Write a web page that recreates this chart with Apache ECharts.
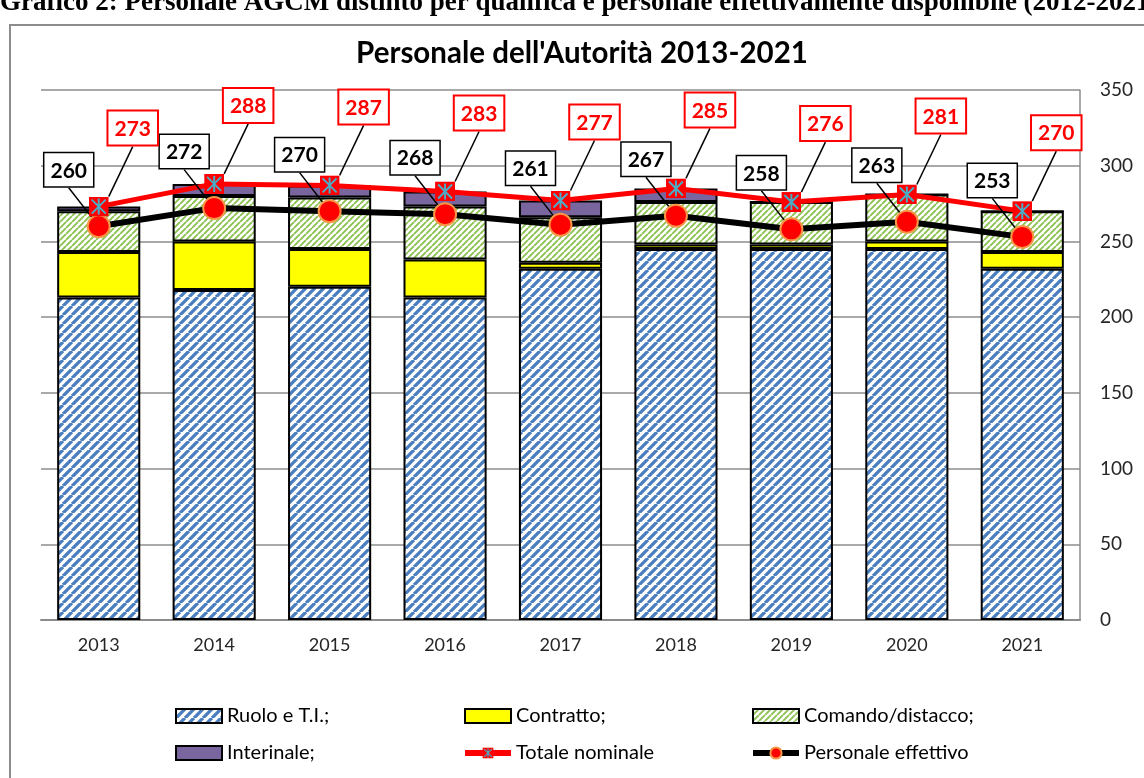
<!DOCTYPE html>
<html>
<head>
<meta charset="utf-8">
<title>Personale dell'Autorità 2013-2021</title>
<script src="https://cdn.jsdelivr.net/npm/echarts@6/dist/echarts.min.js"></script>
<style>
  html, body { margin: 0; padding: 0; background: #fff; }
  #chart { width: 1144px; height: 778px; }
</style>
</head>
<body>
<div id="chart"></div>
<script>
// dati
const years = ['2013', '2014', '2015', '2016', '2017', '2018', '2019', '2020', '2021']
const ruolo = [213, 218, 220, 213, 232, 245, 245, 245, 232]
const contratto = [30, 32, 25, 25, 4, 3, 3, 5, 11]
const comando = [27, 30, 34, 35, 30, 28, 28, 31, 27]
const interinale = [3, 8, 8, 10, 11, 9, 0, 0, 0]
const totale = [273, 288, 287, 283, 277, 285, 276, 281, 270]
const effettivo = [260, 272, 270, 268, 261, 267, 258, 263, 253]

const FONT = 'Lato'

// riempimento a righe oblique (come Excel)
function stripes(color, step, width) {
  const c = document.createElement('canvas')
  c.width = step
  c.height = step
  const ctx = c.getContext('2d')
  ctx.fillStyle = '#fff'
  ctx.fillRect(0, 0, step, step)
  ctx.strokeStyle = color
  ctx.lineWidth = width
  ctx.beginPath()
  for (let k = -1; k <= 1; k++) {
    ctx.moveTo(k * step, step)
    ctx.lineTo(k * step + step, 0)
  }
  ctx.stroke()
  return { image: c, repeat: 'repeat' }
}

// marker "stella" rossa con croce azzurra
const starSvg = '<svg xmlns="http://www.w3.org/2000/svg" width="20" height="20">' +
  '<rect x="0" y="0" width="20" height="20" fill="#ff0000"/>' +
  '<path d="M3 3 L17 17 M17 3 L3 17 M10 2 L10 18" stroke="#4bacc6" stroke-width="2"/></svg>'
const starIcon = 'image://data:image/svg+xml;charset=utf-8,' + encodeURIComponent(starSvg)

const barBase = {
  type: 'bar',
  stack: 'tot',
  barCategoryGap: '28%',
  itemStyle: { borderColor: '#000', borderWidth: 2 }
}

const boxLabel = {
  show: true,
  position: 'top',
  fontFamily: FONT,
  fontWeight: 'bold',
  fontSize: 21,
  backgroundColor: '#fff',
  padding: [7, 6, 5, 6]
}

const legendText = { fontFamily: FONT, fontSize: 20, color: '#000' }
const legendBase = {
  orient: 'vertical',
  top: 706,
  padding: 0,
  itemGap: 17,
  itemWidth: 46,
  itemHeight: 14,
  selectedMode: false,
  textStyle: legendText
}

const chart = echarts.init(document.getElementById('chart'))
chart.setOption({
  animation: false,
  backgroundColor: '#fff',
  title: [
    {
      text: 'Grafico 2: Personale AGCM distinto per qualifica e personale effettivamente disponibile (2012-2021)',
      left: 0,
      top: -10,
      padding: 0,
      textStyle: { fontFamily: 'Liberation Serif', fontWeight: 'bold', fontSize: 27, color: '#000' }
    },
    {
      text: "Personale dell'Autorità 2013-2021",
      left: 582,
      textAlign: 'center',
      top: 38,
      padding: 0,
      textStyle: { fontFamily: FONT, fontWeight: 'bold', fontSize: 29.5, color: '#000' }
    }
  ],
  graphic: [
    {
      type: 'rect',
      silent: true,
      z: -10,
      shape: { x: 10, y: 25, width: 1200, height: 800 },
      style: { fill: 'none', stroke: '#8c8c8c', lineWidth: 2 }
    }
  ],
  legend: [
    Object.assign({ left: 175, data: [{ name: 'Ruolo e T.I.;', icon: 'rect' }, { name: 'Interinale;', icon: 'rect' }] }, legendBase),
    Object.assign({ left: 462, data: [{ name: 'Contratto;', icon: 'rect' }, { name: 'Totale nominale', lineStyle: { width: 6 } }] }, legendBase),
    Object.assign({ left: 750, data: [{ name: 'Comando/distacco;', icon: 'rect' }, { name: 'Personale effettivo', lineStyle: { width: 6 } }] }, legendBase)
  ],
  grid: { left: 41, right: 64, top: 90, bottom: 158 },
  xAxis: {
    type: 'category',
    data: years,
    axisLine: { lineStyle: { color: '#8c8c8c', width: 2 } },
    axisTick: { show: false },
    axisLabel: { fontFamily: FONT, fontSize: 18, color: '#262626', margin: 16 }
  },
  yAxis: {
    type: 'value',
    position: 'right',
    min: 0,
    max: 350,
    interval: 50,
    axisLine: { show: true, lineStyle: { color: '#8c8c8c', width: 1.5 } },
    axisTick: { show: false },
    splitLine: { lineStyle: { color: '#8c8c8c', width: 1.5 } },
    axisLabel: { fontFamily: FONT, fontSize: 19, color: '#262626', margin: 20 }
  },
  series: [
    Object.assign({ name: 'Ruolo e T.I.;', data: ruolo, color: stripes('#4a7ebf', 9, 3.3) }, barBase),
    Object.assign({ name: 'Contratto;', data: contratto, color: '#ffff00' }, barBase),
    Object.assign({ name: 'Comando/distacco;', data: comando, color: stripes('#8cc152', 6, 1.9) }, barBase),
    Object.assign({ name: 'Interinale;', data: interinale, color: '#7a669e' }, barBase),
    {
      name: 'Personale effettivo',
      type: 'line',
      data: effettivo,
      symbol: 'circle',
      symbolSize: 22,
      lineStyle: { color: '#000', width: 6 },
      itemStyle: { color: '#ff0000', borderColor: '#f79646', borderWidth: 2 },
      label: Object.assign({ color: '#000', borderColor: '#000', borderWidth: 1.5 }, boxLabel),
      labelLayout: { dx: -30, dy: -23 },
      labelLine: { show: true, lineStyle: { color: '#000', width: 1.5 } }
    },
    {
      name: 'Totale nominale',
      type: 'line',
      data: totale,
      symbol: starIcon,
      symbolSize: 20,
      lineStyle: { color: '#ff0000', width: 5 },
      itemStyle: { color: '#ff0000' },
      label: Object.assign({ color: '#ff0000', borderColor: '#ff0000', borderWidth: 2 }, boxLabel),
      labelLayout: { dx: 34, dy: -47 },
      labelLine: { show: true, lineStyle: { color: '#000', width: 1.5 } }
    }
  ]
})
</script>
</body>
</html>
